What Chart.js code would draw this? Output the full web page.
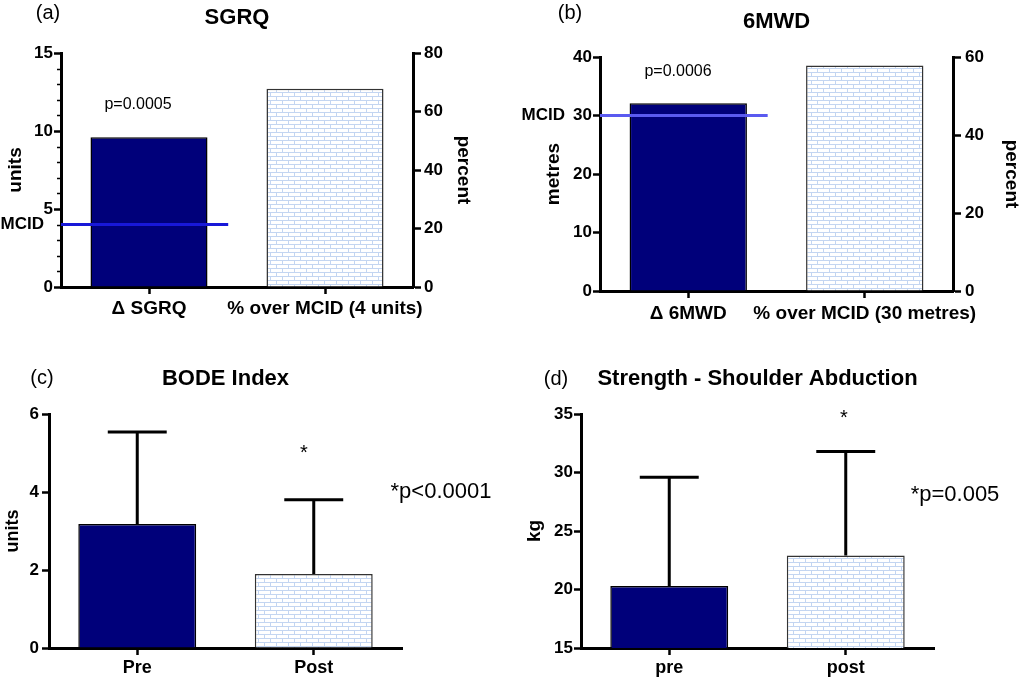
<!DOCTYPE html>
<html>
<head>
<meta charset="utf-8">
<script src="https://cdn.jsdelivr.net/npm/chart.js@4.4.1/dist/chart.umd.min.js"></script>
<style>
  html, body { margin: 0; padding: 0; background: #fff; }
  body { width: 1023px; height: 679px; position: relative; overflow: hidden; }
  .panel { position: absolute; }
</style>
</head>
<body>
<div class="panel" style="left:0;top:0;width:511px;height:330px"><canvas id="sgrq"></canvas></div>
<div class="panel" style="left:511px;top:0;width:512px;height:330px"><canvas id="mwd"></canvas></div>
<div class="panel" style="left:0;top:330px;width:511px;height:349px"><canvas id="bode"></canvas></div>
<div class="panel" style="left:511px;top:330px;width:512px;height:349px"><canvas id="strength"></canvas></div>
<script>
const FONT = '"Liberation Sans", Arial, Helvetica, sans-serif';
const NAVY = "#00007a";

// (a) SGRQ
const sgrqLabels = ["Δ SGRQ", "% over MCID (4 units)"];
const sgrqUnits = [9.6, null];
const sgrqPercent = [null, 67.8];
const sgrqMcid = 4;
const sgrqUnitTicks = [0, 5, 10, 15];
const sgrqPercentTicks = [0, 20, 40, 60, 80];

// (b) 6MWD
const mwdLabels = ["Δ 6MWD", "% over MCID (30 metres)"];
const mwdMetres = [32.1, null];
const mwdPercent = [null, 57.8];
const mwdMcid = 30;
const mwdMetreTicks = [0, 10, 20, 30, 40];
const mwdPercentTicks = [0, 20, 40, 60];

// (c) BODE index, mean and SD
const bodeLabels = ["Pre", "Post"];
const bodeMean = [3.18, 1.9];
const bodeSd = [2.36, 1.9];
const bodeTicks = [0, 2, 4, 6];

// (d) Strength, mean and SD
const strengthLabels = ["pre", "post"];
const strengthMean = [20.3, 22.9];
const strengthSd = [9.3, 8.9];
const strengthTicks = [15, 20, 25, 30, 35];

const $ = (id) => document.getElementById(id);

function brick(canvas) {
  const c = document.createElement("canvas");
  c.width = 12; c.height = 8;
  const g = c.getContext("2d");
  g.fillStyle = "#fff";
  g.fillRect(0, 0, 12, 8);
  g.fillStyle = "#c3d5f1";
  g.fillRect(0, 0, 12, 1);
  g.fillRect(0, 4, 12, 1);
  g.fillRect(0, 1, 1, 3);
  g.fillRect(6, 5, 1, 3);
  return canvas.getContext("2d").createPattern(c, "repeat");
}

// extra drawing per canvas: titles, notes, MCID lines, error bars
const extras = {
  sgrq: {
    letter: ["(a)", 48, 13], titleText: "SGRQ", titleY: 18,
    notes: [["p=0.0005", 138, 105, "16px"]],
    mcid: sgrqMcid, mcidColor: "#1818d8", mcidLabelX: 44,
    minor: [1, 2, 3, 4, 6, 7, 8, 9, 11, 12, 13, 14],
  },
  mwd: {
    letter: ["(b)", 59, 13], titleText: "6MWD", titleY: 22,
    notes: [["p=0.0006", 167, 72, "16px"]],
    mcid: mwdMcid, mcidColor: "#5a5af0", mcidLabelX: 54,
  },
  bode: {
    letter: ["(c)", 42, 48], titleText: "BODE Index", titleY: 49,
    notes: [["*", 304, 123, "20px"], ["*p<0.0001", 441, 162, "22px"]],
    mean: bodeMean, sd: bodeSd,
  },
  strength: {
    letter: ["(d)", 45, 49], titleText: "Strength - Shoulder Abduction", titleY: 49,
    notes: [["*", 333, 88, "20px"], ["*p=0.005", 444, 165, "22px"]],
    mean: strengthMean, sd: strengthSd,
  },
};

const extrasPlugin = {
  id: "panelExtras",
  afterDraw(chart) {
    const ex = extras[chart.canvas.id];
    const ctx = chart.ctx;
    const area = chart.chartArea;
    const { x, y } = chart.scales;
    ctx.save();

    if (ex.minor) {
      ctx.strokeStyle = "#000";
      ctx.lineWidth = 1.5;
      ex.minor.forEach((v) => {
        const py = Math.round(y.getPixelForValue(v)) + 0.5;
        ctx.beginPath();
        ctx.moveTo(area.left - 4, py);
        ctx.lineTo(area.left, py);
        ctx.stroke();
      });
    }

    if (ex.mean) {
      ctx.strokeStyle = "#000";
      ctx.lineWidth = 3;
      chart.getDatasetMeta(0).data.forEach((bar, i) => {
        const top = y.getPixelForValue(ex.mean[i] + ex.sd[i]);
        const half = bar.width / 4;
        ctx.beginPath();
        ctx.moveTo(bar.x, bar.y);
        ctx.lineTo(bar.x, top);
        ctx.moveTo(bar.x - half, top);
        ctx.lineTo(bar.x + half, top);
        ctx.stroke();
      });
    }

    if (ex.mcid != null) {
      const py = y.getPixelForValue(ex.mcid);
      const c0 = x.getPixelForValue(0);
      const c1 = x.getPixelForValue(1);
      ctx.strokeStyle = ex.mcidColor;
      ctx.lineWidth = 3;
      ctx.beginPath();
      ctx.moveTo(area.left, py);
      ctx.lineTo(c0 + (c1 - c0) * 0.45, py);
      ctx.stroke();
      ctx.fillStyle = "#000";
      ctx.font = `bold 17px ${FONT}`;
      ctx.textAlign = "right";
      ctx.textBaseline = "middle";
      ctx.fillText("MCID", ex.mcidLabelX, py);
    }

    ctx.fillStyle = "#000";
    ctx.textAlign = "center";
    ctx.textBaseline = "middle";
    ctx.font = `bold 22px ${FONT}`;
    ctx.fillText(ex.titleText, (area.left + area.right) / 2, ex.titleY);
    ctx.font = `20px ${FONT}`;
    ctx.fillText(ex.letter[0], ex.letter[1], ex.letter[2]);
    ex.notes.forEach(([text, nx, ny, size]) => {
      ctx.font = `${size} ${FONT}`;
      ctx.fillText(text, nx, ny);
    });
    ctx.restore();
  },
};

function yAxis(ticks, o) {
  return {
    type: "linear",
    position: o.position || "left",
    min: ticks[0],
    max: ticks[ticks.length - 1],
    afterBuildTicks: (s) => { s.ticks = ticks.map((v) => ({ value: v })); },
    afterFit: (s) => { s.width = o.width; },
    grid: { drawOnChartArea: false, color: "#000", tickLength: o.tickLength || 7, tickWidth: 2.5 },
    border: { color: "#000", width: 3 },
    ticks: { color: "#000", padding: o.pad, font: { family: FONT, size: 17, weight: "bold" } },
    title: {
      display: true, text: o.title, color: "#000",
      padding: { top: o.titlePad, bottom: 0 },
      font: { family: FONT, size: o.titleSize || 19, weight: "bold" },
    },
  };
}

function xAxis(height, pad, size) {
  return {
    type: "category",
    afterFit: (s) => { s.height = height; },
    grid: { drawOnChartArea: false, offset: false, color: "#000", tickLength: 7, tickWidth: 2.5 },
    border: { color: "#000", width: 3 },
    ticks: {
      color: "#000", padding: pad, maxRotation: 0, minRotation: 0, autoSkip: false,
      font: { family: FONT, size: size, weight: "bold" },
    },
  };
}

function baseOptions(padding, scales) {
  return {
    responsive: true,
    maintainAspectRatio: false,
    animation: false,
    layout: { padding },
    plugins: { legend: { display: false }, tooltip: { enabled: false } },
    scales,
  };
}

// (a)
new Chart($("sgrq"), {
  type: "bar",
  data: {
    labels: sgrqLabels,
    datasets: [
      { data: sgrqUnits, yAxisID: "y", backgroundColor: NAVY, borderColor: "#000", borderWidth: 1.5,
        grouped: false, barPercentage: 0.665, categoryPercentage: 1 },
      { data: sgrqPercent, yAxisID: "y1", backgroundColor: brick($("sgrq")), borderColor: "#333", borderWidth: 1.5,
        grouped: false, barPercentage: 0.665, categoryPercentage: 1 },
    ],
  },
  options: baseOptions({ top: 53, left: 0, right: 0, bottom: 0 }, {
    x: xAxis(43, 3, 19),
    y: yAxis(sgrqUnitTicks, { width: 61, pad: 1, title: "units", titlePad: 4 }),
    y1: yAxis(sgrqPercentTicks, { position: "right", width: 98, pad: 3, tickLength: 8, title: "percent", titlePad: 36 }),
  }),
  plugins: [extrasPlugin],
});

// (b)
new Chart($("mwd"), {
  type: "bar",
  data: {
    labels: mwdLabels,
    datasets: [
      { data: mwdMetres, yAxisID: "y", backgroundColor: NAVY, borderColor: "#000", borderWidth: 1.5,
        grouped: false, barPercentage: 0.665, categoryPercentage: 1 },
      { data: mwdPercent, yAxisID: "y1", backgroundColor: brick($("mwd")), borderColor: "#333", borderWidth: 1.5,
        grouped: false, barPercentage: 0.665, categoryPercentage: 1 },
    ],
  },
  options: baseOptions({ top: 57, left: 0, right: 0, bottom: 0 }, {
    x: xAxis(39, 4, 19),
    y: yAxis(mwdMetreTicks, { width: 89, pad: 1, title: "metres", titlePad: 31 }),
    y1: yAxis(mwdPercentTicks, { position: "right", width: 70, pad: 4, tickLength: 8, title: "percent", titlePad: 0 }),
  }),
  plugins: [extrasPlugin],
});

// (c)
new Chart($("bode"), {
  type: "bar",
  data: {
    labels: bodeLabels,
    datasets: [{
      data: bodeMean,
      backgroundColor: [NAVY, brick($("bode"))],
      borderColor: ["#000", "#333"],
      borderWidth: 1.5,
      barPercentage: 0.668, categoryPercentage: 1,
    }],
  },
  options: baseOptions({ top: 84, left: 0, right: 109, bottom: 0 }, {
    x: xAxis(31, 2, 18),
    y: yAxis(bodeTicks, { width: 49, pad: 3, title: "units", titlePad: 2, titleSize: 18 }),
  }),
  plugins: [extrasPlugin],
});

// (d)
new Chart($("strength"), {
  type: "bar",
  data: {
    labels: strengthLabels,
    datasets: [{
      data: strengthMean,
      backgroundColor: [NAVY, brick($("strength"))],
      borderColor: ["#000", "#333"],
      borderWidth: 1.5,
      barPercentage: 0.668, categoryPercentage: 1,
    }],
  },
  options: baseOptions({ top: 84, left: 0, right: 89, bottom: 0 }, {
    x: xAxis(31, 2, 18),
    y: yAxis(strengthTicks, { width: 70, pad: 1, title: "kg", titlePad: 12, titleSize: 19 }),
  }),
  plugins: [extrasPlugin],
});
</script>
</body>
</html>
